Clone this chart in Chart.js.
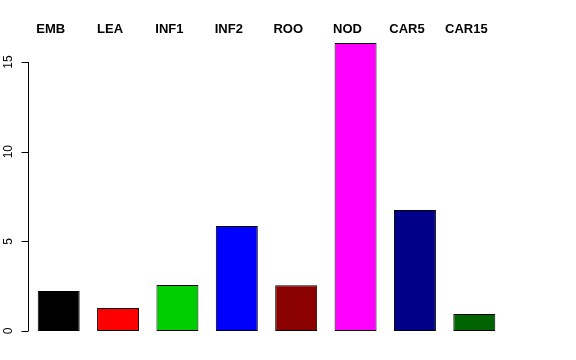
<!DOCTYPE html>
<html>
<head>
<meta charset="utf-8">
<script src="https://cdn.jsdelivr.net/npm/chart.js@4"></script>
<style>
  html, body { margin: 0; padding: 0; background: #fff; }
  #wrap { width: 576px; height: 360px; }
</style>
</head>
<body>
<div id="wrap"><canvas id="chart"></canvas></div>
<script>
const tissues = ['EMB', 'LEA', 'INF1', 'INF2', 'ROO', 'NOD', 'CAR5', 'CAR15'];
const values = [2.23, 1.28, 2.57, 5.86, 2.55, 16.06, 6.75, 0.95];
const barColors = ['#000000', '#FF0000', '#00CD00', '#0000FF', '#8B0000', '#FF00FF', '#00008B', '#006400'];
const yTicks = [0, 5, 10, 15];

// R style axis on the left + tissue names on top
const rAxes = {
  id: 'rAxes',
  afterDraw(chart) {
    const ctx = chart.ctx;
    const x = chart.scales.x, y = chart.scales.y;
    const ax = chart.chartArea.left - 0.5;
    ctx.save();
    ctx.strokeStyle = '#000';
    ctx.lineWidth = 1;
    ctx.beginPath();
    ctx.moveTo(ax, y.getPixelForValue(yTicks[0]));
    ctx.lineTo(ax, y.getPixelForValue(yTicks[yTicks.length - 1]));
    yTicks.forEach(t => {
      const py = Math.round(y.getPixelForValue(t)) + 0.5;
      ctx.moveTo(ax, py);
      ctx.lineTo(ax - 7, py);
    });
    ctx.stroke();

    ctx.fillStyle = '#000';
    ctx.font = '12px "Liberation Sans", Arial, sans-serif';
    ctx.textAlign = 'center';
    ctx.textBaseline = 'middle';
    yTicks.forEach(t => {
      ctx.save();
      ctx.translate(9, y.getPixelForValue(t));
      ctx.rotate(-Math.PI / 2);
      ctx.fillText(String(t), 0, 0);
      ctx.restore();
    });

    ctx.font = 'bold 13px "Liberation Sans", Arial, sans-serif';
    tissues.forEach((name, i) => {
      ctx.fillText(name, x.getPixelForValue(i) - 8, 29);
    });
    ctx.restore();
  }
};

new Chart(document.getElementById('chart'), {
  type: 'bar',
  data: {
    labels: tissues,
    datasets: [{
      data: values,
      backgroundColor: barColors,
      borderColor: '#000',
      borderWidth: 1,
      borderSkipped: false,
      categoryPercentage: 1,
      barPercentage: 0.707
    }]
  },
  options: {
    responsive: true,
    maintainAspectRatio: false,
    animation: false,
    layout: { padding: { left: 29, right: 72, top: 38.7, bottom: 29 } },
    plugins: { legend: { display: false }, tooltip: { enabled: false } },
    scales: {
      x: { display: false },
      y: { display: false, min: 0, max: 16.3 }
    }
  },
  plugins: [rAxes]
});
</script>
</body>
</html>
